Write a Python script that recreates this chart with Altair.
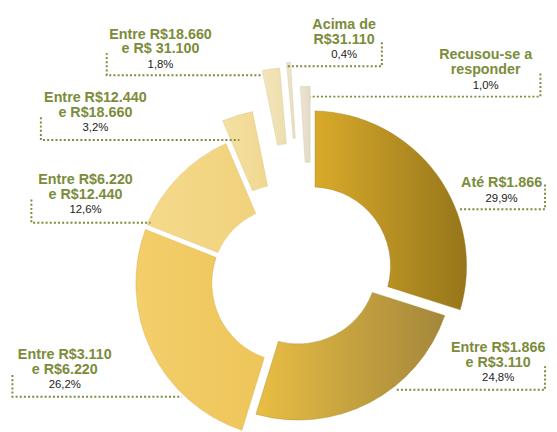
import math
import altair as alt
import pandas as pd

# ---------------- data ----------------
categories = [
    "Até R$1.866",
    "Entre R$1.866 e R$3.110",
    "Entre R$3.110 e R$6.220",
    "Entre R$6.220 e R$12.440",
    "Entre R$12.440 e R$18.660",
    "Entre R$18.660 e R$ 31.100",
    "Acima de R$31.110",
    "Recusou-se a responder",
]
label_lines = [
    ["Até R$1.866"],
    ["Entre R$1.866", "e R$3.110"],
    ["Entre R$3.110", "e R$6.220"],
    ["Entre R$6.220", "e R$12.440"],
    ["Entre R$12.440", "e R$18.660"],
    ["Entre R$18.660", "e R$ 31.100"],
    ["Acima de", "R$31.110"],
    ["Recusou-se a", "responder"],
]
shares = [29.9, 24.8, 26.2, 12.6, 3.2, 1.8, 0.4, 1.0]

# ---------------- style / layout ----------------
M = 8                      # page margin
W, H = 541, 424
CX, CY = 290 - M, 285 - M  # base centre of the ring
R_IN, R_OUT = 80, 157
slice_shift = [(21.5, -18.5), (8, -19.4), (0.5, -1), (-0.5, 0.5),
               (-7, -21), (3, -62.5), (10, -68), (20, -43.5)]
pad_angle = [0.04, 0.04, 0.04, 0.04, 0, 0, 0, 0]
fills = [
    ("#d9aa2a", "#96761b"),
    ("#e9be43", "#a3873b"),
    ("#f3ce6a", "#eec55a"),
    ("#f5da8c", "#f1d27c"),
    ("#f5e0a2", "#f0d890"),
    ("#f3e5bb", "#eddeac"),
    ("#eee6c9", "#e8dfbf"),
    ("#ebe4d1", "#e4dbc5"),
]
edges = ["#9a7a1c", "#a88a36", "#d9b04a", "#dcbd6c", "#d8c07c", "#d6c598", "#d2c7a6", "#cfc6b0"]
OLIVE = "#7b8c3a"
FONT = "Liberation Sans"
label_anchor = [(504, 183), (500.5, 350), (61.5, 357), (82.5, 179.3),
                (92.5, 96.7), (158.5, 32.3), (344.5, 22.7), (487.8, 53.3)]
LINE_STEP = 15
PCT_STEP = 15.5
# (vertical x, vertical top y, horizontal y, horizontal end x at slice)
leaders = [(548, 184, 209, 460), (548, 368, 392, 397), (8.5, 377, 399, 180),
           (27.7, 199.3, 222.7, 148.3), (37.3, 116, 139, 238.3),
           (104, 50.7, 73.3, 261.7), (382.7, 40, 64.3, 286.7),
           (543.3, 71.7, 95, 310)]

# ---------------- tables ----------------
total = sum(shares)
slices = pd.DataFrame({
    "cat": categories,
    "share": shares,
    "order": list(range(len(categories))),
    "cx": [CX + s[0] for s in slice_shift],
    "cy": [CY + s[1] for s in slice_shift],
})

text_rows = []
for cat, lines, v, (ax, ay) in zip(categories, label_lines, shares, label_anchor):
    y = ay
    for ln in lines:
        text_rows.append({"cat": cat, "t": ln, "kind": "title", "x": ax - M, "y": y - M})
        y += LINE_STEP
    pct = f"{v:.1f}".replace(".", ",") + "%"
    text_rows.append({"cat": cat, "t": pct, "kind": "pct",
                      "x": ax - M, "y": y - LINE_STEP + PCT_STEP - M})
texts = pd.DataFrame(text_rows)

lead_rows = []
for cat, (vx, vy, hy, ex) in zip(categories, leaders):
    for i, (px, py) in enumerate([(vx, vy), (vx, hy), (ex, hy)]):
        lead_rows.append({"cat": cat, "seq": i, "x": px - M, "y": py - M})
leads = pd.DataFrame(lead_rows)

# ---------------- chart ----------------
theta_scale = alt.Scale(domain=[0, total], range=[0, 2 * math.pi])
xpix = alt.X("cx:Q", scale=None, axis=None)
ypix = alt.Y("cy:Q", scale=None, axis=None)

arc_layers = []
for i, cat in enumerate(categories):
    grad = alt.LinearGradient(
        gradient="linear",
        stops=[alt.GradientStop(color=fills[i][0], offset=0),
               alt.GradientStop(color=fills[i][1], offset=1)],
        x1=0, x2=1, y1=0, y2=0,
    )
    arc_layers.append(
        alt.Chart(slices)
        .transform_window(cum="sum(share)", frame=[None, 0], sort=[{"field": "order"}])
        .transform_calculate(t0="datum.cum - datum.share", t1="datum.cum")
        .transform_filter(alt.datum.cat == cat)
        .mark_arc(innerRadius=R_IN, outerRadius=R_OUT, padAngle=pad_angle[i],
                  fill=grad, stroke=edges[i], strokeWidth=0.7, strokeOpacity=0.6)
        .encode(
            theta=alt.Theta("t0:Q", scale=theta_scale, stack=False),
            theta2=alt.Theta2("t1:Q"),
            x=xpix, y=ypix,
        )
    )

leader_layer = alt.Chart(leads).mark_line(
    color=OLIVE, strokeWidth=2, strokeDash=[2, 2.2], strokeCap="butt"
).encode(
    x=alt.X("x:Q", scale=None, axis=None),
    y=alt.Y("y:Q", scale=None, axis=None),
    detail="cat:N",
    order="seq:Q",
)

title_layer = alt.Chart(texts).transform_filter(alt.datum.kind == "title").mark_text(
    font=FONT, fontSize=14.5, fontWeight="bold", color=OLIVE, align="center", baseline="middle"
).encode(
    x=alt.X("x:Q", scale=None, axis=None),
    y=alt.Y("y:Q", scale=None, axis=None),
    text="t:N",
)

pct_layer = alt.Chart(texts).transform_filter(alt.datum.kind == "pct").mark_text(
    font=FONT, fontSize=11.5, color="#1a1a1a", align="center", baseline="middle"
).encode(
    x=alt.X("x:Q", scale=None, axis=None),
    y=alt.Y("y:Q", scale=None, axis=None),
    text="t:N",
)

chart = alt.layer(*arc_layers, leader_layer, title_layer, pct_layer).properties(
    width=W, height=H, padding=0, background="white"
).configure_view(stroke=None)

chart.save("out.html", embed_options={"renderer": "svg", "actions": False})
